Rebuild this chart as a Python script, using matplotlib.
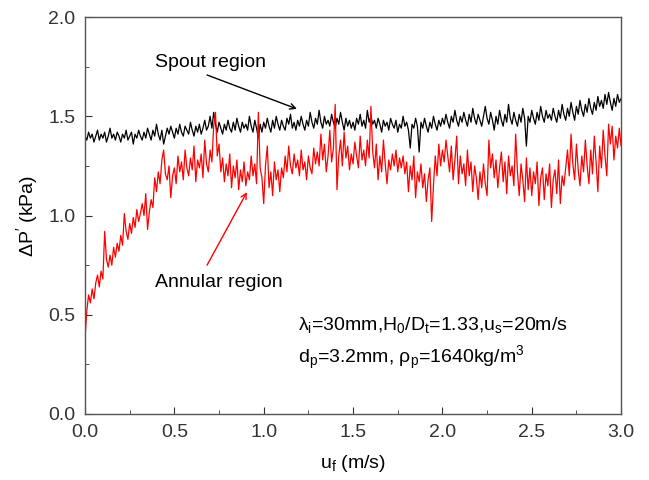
import numpy as np
import matplotlib
matplotlib.use("Agg")
import matplotlib.pyplot as plt
from matplotlib.ticker import MultipleLocator

plt.rcParams['font.family'] = ['Liberation Sans', 'DejaVu Sans']
plt.rcParams['mathtext.fontset'] = 'custom'
plt.rcParams['mathtext.rm'] = 'Liberation Sans'
plt.rcParams['mathtext.it'] = 'Liberation Sans'
plt.rcParams['mathtext.default'] = 'regular'

FS = 14

# superficial gas velocity u_f (m/s), step 0.01
uf = np.round(np.arange(0, 301) * 0.01, 2)

# pressure fluctuation in spout region (kPa)
spout = [
    1.40, 1.38, 1.42, 1.39, 1.41, 1.37, 1.40, 1.43, 1.38, 1.41,
    1.39, 1.42, 1.37, 1.40, 1.44, 1.39, 1.41, 1.38, 1.42, 1.40,
    1.37, 1.41, 1.39, 1.43, 1.38, 1.40, 1.42, 1.36, 1.41, 1.39,
    1.43, 1.40, 1.38, 1.42, 1.39, 1.44, 1.41, 1.38, 1.43, 1.40,
    1.46, 1.41, 1.38, 1.43, 1.36, 1.40, 1.44, 1.41, 1.45, 1.42,
    1.39, 1.44, 1.41, 1.46, 1.42, 1.40, 1.45, 1.43, 1.41, 1.47,
    1.43, 1.40, 1.45, 1.42, 1.46, 1.41, 1.44, 1.48, 1.43, 1.45,
    1.50, 1.44, 1.52, 1.46, 1.42, 1.47, 1.44, 1.41, 1.46, 1.43,
    1.48, 1.44, 1.42, 1.47, 1.43, 1.49, 1.45, 1.42, 1.47, 1.44,
    1.46, 1.43, 1.50, 1.45, 1.42, 1.48, 1.44, 1.39, 1.46, 1.42,
    1.47, 1.44, 1.49, 1.45, 1.42, 1.48, 1.44, 1.50, 1.46, 1.43,
    1.48, 1.45, 1.43, 1.49, 1.46, 1.51, 1.44, 1.47, 1.43, 1.48,
    1.45, 1.50, 1.46, 1.43, 1.48, 1.45, 1.52, 1.47, 1.44, 1.49,
    1.46, 1.53, 1.47, 1.44, 1.50, 1.46, 1.48, 1.45, 1.51, 1.47,
    1.44, 1.49, 1.46, 1.52, 1.47, 1.43, 1.49, 1.45, 1.48, 1.44,
    1.47, 1.43, 1.49, 1.46, 1.51, 1.45, 1.48, 1.44, 1.53, 1.47,
    1.50, 1.46, 1.48, 1.44, 1.49, 1.46, 1.42, 1.48, 1.45, 1.47,
    1.43, 1.49, 1.46, 1.44, 1.48, 1.42, 1.46, 1.44, 1.50, 1.45,
    1.47, 1.43, 1.34, 1.46, 1.44, 1.49, 1.45, 1.32, 1.47, 1.44,
    1.49, 1.45, 1.42, 1.47, 1.44, 1.50, 1.46, 1.43, 1.48, 1.45,
    1.49, 1.46, 1.51, 1.47, 1.44, 1.50, 1.47, 1.53, 1.48, 1.45,
    1.50, 1.47, 1.52, 1.48, 1.45, 1.51, 1.47, 1.54, 1.49, 1.46,
    1.51, 1.48, 1.45, 1.50, 1.55, 1.49, 1.46, 1.52, 1.48, 1.43,
    1.50, 1.46, 1.53, 1.48, 1.45, 1.51, 1.47, 1.56, 1.49, 1.46,
    1.52, 1.48, 1.45, 1.51, 1.47, 1.54, 1.49, 1.35, 1.50, 1.47,
    1.53, 1.49, 1.46, 1.52, 1.48, 1.55, 1.50, 1.47, 1.53, 1.49,
    1.51, 1.48, 1.54, 1.50, 1.47, 1.53, 1.49, 1.56, 1.51, 1.48,
    1.54, 1.50, 1.57, 1.52, 1.48, 1.55, 1.51, 1.58, 1.53, 1.50,
    1.56, 1.52, 1.59, 1.54, 1.51, 1.57, 1.53, 1.60, 1.55, 1.58,
    1.54, 1.61, 1.56, 1.62, 1.57, 1.53, 1.59, 1.55, 1.61, 1.57,
    1.59,
]

# pressure fluctuation in annular region (kPa)
annular = [
    0.38, 0.52, 0.60, 0.56, 0.63, 0.58, 0.66, 0.70, 0.64, 0.72,
    0.68, 0.92, 0.78, 0.74, 0.80, 0.75, 0.84, 0.79, 0.86, 0.82,
    0.90, 0.85, 1.01, 0.92, 0.88, 0.96, 0.91, 0.99, 0.94, 1.03,
    0.97, 1.01, 1.06, 1.00, 1.11, 0.93, 1.02, 1.08, 1.04, 1.19,
    1.12, 1.22, 1.16, 1.28, 1.33, 1.21, 1.18, 1.25, 1.09, 1.20,
    1.24, 1.16, 1.30, 1.22, 1.27, 1.18, 1.33, 1.24, 1.20, 1.29,
    1.23, 1.35, 1.17, 1.28, 1.24, 1.31, 1.19, 1.38, 1.26, 1.22,
    1.33, 1.27, 1.45, 1.52, 1.30, 1.36, 1.22, 1.29, 1.17, 1.26,
    1.20, 1.31, 1.14, 1.25, 1.19, 1.28, 1.13, 1.23, 1.17, 1.27,
    1.15, 1.22, 1.18, 1.30, 1.20, 1.26, 1.16, 1.52, 1.24, 1.19,
    1.06, 1.25, 1.35, 1.14, 1.22, 1.10, 1.27, 1.18, 1.23, 1.12,
    1.24, 1.19, 1.30, 1.22, 1.35, 1.25, 1.21, 1.31, 1.24, 1.28,
    1.20, 1.33, 1.23, 1.27, 1.18, 1.30, 1.24, 1.21, 1.34, 1.26,
    1.32, 1.25, 1.41, 1.28, 1.36, 1.22, 1.30, 1.43, 1.27, 1.34,
    1.56, 1.13, 1.30, 1.38, 1.25, 1.42, 1.29, 1.35, 1.23, 1.31,
    1.26, 1.37, 1.30, 1.24, 1.40, 1.28, 1.33, 1.25, 1.38, 1.29,
    1.55, 1.32, 1.24, 1.36, 1.18, 1.30, 1.22, 1.38, 1.26, 1.16,
    1.28, 1.23, 1.31, 1.25, 1.33, 1.22, 1.29, 1.24, 1.30, 1.21,
    1.27, 1.12, 1.25, 1.18, 1.30, 1.09, 1.22, 1.17, 1.26, 1.14,
    1.21, 1.07, 1.18, 1.24, 0.97, 1.15, 1.30, 1.20, 1.36, 1.25,
    1.33, 1.27, 1.38, 1.30, 1.22, 1.35, 1.18, 1.28, 1.40, 1.16,
    1.30, 1.21, 1.26, 1.15, 1.33, 1.20, 1.27, 1.12, 1.25, 1.19,
    1.08, 1.22, 1.14, 1.26, 1.16, 1.10, 1.38, 1.24, 1.31, 1.19,
    1.28, 1.14, 1.24, 1.32, 1.17, 1.27, 1.11, 1.30, 1.20, 1.25,
    1.15, 1.41, 1.22, 1.10, 1.26, 1.18, 1.07, 1.29, 1.13, 1.24,
    1.10, 1.22, 1.16, 1.27, 1.05, 1.19, 1.24, 1.08, 1.21, 1.15,
    1.26, 1.04, 1.18, 1.23, 1.11, 1.28, 1.06, 1.20, 1.15, 1.24,
    1.33, 1.20, 1.41, 1.26, 1.18, 1.36, 1.23, 1.15, 1.30, 1.22,
    1.38, 1.25, 1.16, 1.33, 1.21, 1.40, 1.27, 1.12, 1.35, 1.24,
    1.43, 1.30, 1.20, 1.46, 1.36, 1.45, 1.28, 1.40, 1.34, 1.44,
    1.35,
]

fig = plt.figure(figsize=(6.49, 4.8), dpi=100)
ax = fig.add_axes([0.131, 0.1375, 0.826, 0.827])

ax.plot(uf, spout, color='black', lw=0.9)
ax.plot(uf, annular, color='red', lw=0.9)

ax.set_xlim(0, 3.0)
ax.set_ylim(0, 2.0)
ax.xaxis.set_major_locator(MultipleLocator(0.5))
ax.xaxis.set_minor_locator(MultipleLocator(0.25))
ax.yaxis.set_major_locator(MultipleLocator(0.5))
ax.yaxis.set_minor_locator(MultipleLocator(0.25))
ax.xaxis.set_major_formatter(plt.FormatStrFormatter('%.1f'))
ax.yaxis.set_major_formatter(plt.FormatStrFormatter('%.1f'))
ax.tick_params(which='both', direction='in', top=False, right=False,
               labelsize=FS, colors='#333333')
ax.tick_params(which='major', length=5, pad=7)
ax.tick_params(which='minor', length=3)
for s in ax.spines.values():
    s.set_color('#555555')
    s.set_linewidth(1.0)

ax.set_xlabel('u$_f$ (m/s)', fontsize=FS, labelpad=9)
ax.set_ylabel(r"ΔP$^{\prime}$ (kPa)", fontsize=FS, labelpad=6)

# labels with pointer arrows
ax.text(0.39, 1.773, 'Spout region', fontsize=FS, va='center', ha='left')
ax.annotate('', xy=(1.186, 1.537), xytext=(0.683, 1.708),
            arrowprops=dict(arrowstyle='->', color='black', lw=1.0,
                            shrinkA=0, shrinkB=0))
ax.annotate('', xy=(0.906, 1.118), xytext=(0.683, 0.75),
            arrowprops=dict(arrowstyle='->', color='red', lw=1.0,
                            shrinkA=0, shrinkB=0))
ax.text(0.39, 0.665, 'Annular region', fontsize=FS, va='center', ha='left')

ax.text(1.19, 0.448, r'$\lambda_i$=30mm,H$_0$/D$_t$=1.33,u$_s$=20m/s',
        fontsize=FS, va='center', ha='left')
ax.text(1.19, 0.282, r'd$_p$=3.2mm, $\rho_p$=1640kg/m$^3$',
        fontsize=FS, va='center', ha='left')

fig.savefig('out.png', dpi=100)
